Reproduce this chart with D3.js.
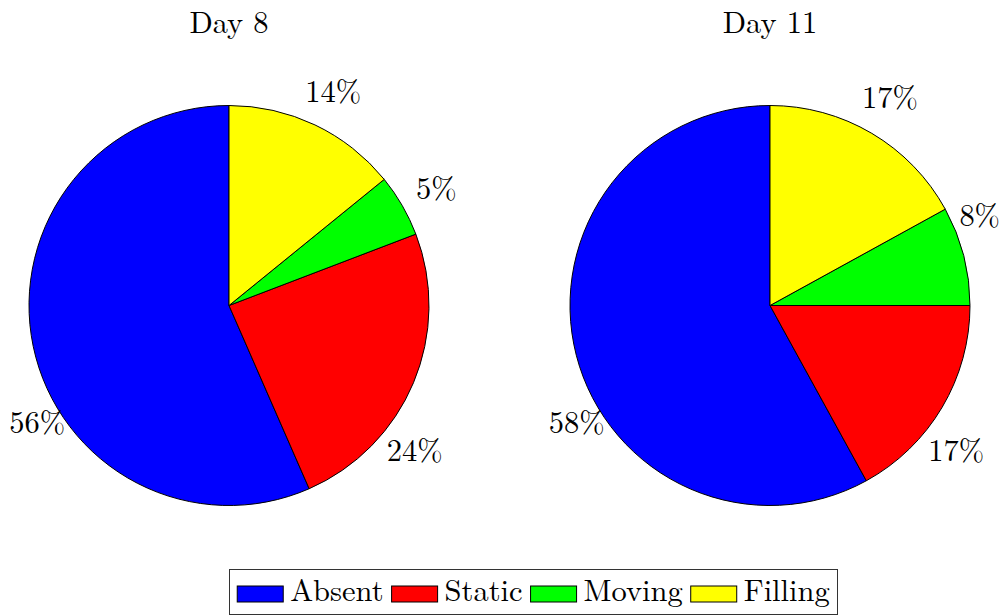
<!DOCTYPE html>
<html>
<head>
<meta charset="utf-8">
<script src="https://cdn.jsdelivr.net/npm/d3@7"></script>
<style>
  html, body { margin: 0; padding: 0; background: #fff; }
  svg { display: block; }
</style>
</head>
<body>
<svg id="chart" width="1008" height="615"></svg>
<script>
// Share of each state per observation day (percent)
const categories = ["Absent", "Static", "Moving", "Filling"];
const colors = ["#0000ff", "#ff0000", "#00ff00", "#ffff00"];
const days = ["Day 8", "Day 11"];
const day8Values = [56, 24, 5, 14];
const day11Values = [58, 17, 8, 17];

// Label placement tweaks: angular shift (degrees, counter-clockwise) and radial shift (px)
const day8LabelShift = [[19.7, -11], [-15.4, 0], [-0.6, 2], [-0.5, 2]];
const day11LabelShift = [[16.8, -10], [-7.3, 0], [8.7, -8], [0.6, 4]];

const FONT = '"Latin Modern Roman", "CMU Serif", "Liberation Serif", serif';
const fontSize = 30.5;

const svg = d3.select("#chart");
const radius = 200;
const centers = [[229, 305.5], [770, 305.5]];

// Slices run counter-clockwise from 12 o'clock in category order
const pie = d3.pie().sort(null).value(d => d.value)
  .startAngle(0).endAngle(-2 * Math.PI);
const arc = d3.arc().innerRadius(0).outerRadius(radius);
const colorScale = d3.scaleOrdinal().domain(categories).range(colors);

const series = [day8Values, day11Values];
const shifts = [day8LabelShift, day11LabelShift];

function labelPos(d) {
  const a = (d.startAngle + d.endAngle) / 2 - d.data.shift[0] * Math.PI / 180;
  const r = radius * 1.18 + d.data.shift[1];
  return [r * Math.sin(a), -r * Math.cos(a)];
}

series.forEach((vals, i) => {
  const [cx, cy] = centers[i];
  const data = categories.map((c, k) => ({ cat: c, value: vals[k], shift: shifts[i][k] }));
  const g = svg.append("g").attr("transform", `translate(${cx},${cy})`);

  g.selectAll("path.slice")
    .data(pie(data))
    .join("path")
    .attr("class", "slice")
    .attr("d", arc)
    .attr("fill", d => colorScale(d.data.cat))
    .attr("stroke", "#000")
    .attr("stroke-width", 1)
    .attr("stroke-linejoin", "round");

  g.selectAll("text.pct")
    .data(pie(data))
    .join("text")
    .attr("class", "pct")
    .style("font-family", FONT)
    .attr("font-size", fontSize)
    .attr("text-anchor", "middle")
    .attr("dy", "0.33em")
    .attr("x", d => labelPos(d)[0])
    .attr("y", d => labelPos(d)[1])
    .text(d => d.data.value + "%");

  svg.append("text")
    .style("font-family", FONT)
    .attr("font-size", fontSize)
    .attr("x", cx)
    .attr("y", 33)
    .attr("text-anchor", "middle")
    .text(days[i]);
});

// Legend: a framed row of swatches and names
const legend = svg.append("g");
const box = { x0: 229.5, x1: 837.5, y0: 569.5, y1: 614.5 };
legend.append("rect")
  .attr("x", box.x0).attr("y", box.y0)
  .attr("width", box.x1 - box.x0).attr("height", box.y1 - box.y0)
  .attr("fill", "#fff").attr("stroke", "#333").attr("stroke-width", 1);

const swW = 46, swH = 16, gapAfterSwatch = 7, gapAfterText = 8;
const items = legend.selectAll("g.item").data(categories).join("g").attr("class", "item");
items.append("rect")
  .attr("width", swW).attr("height", swH)
  .attr("y", 586)
  .attr("fill", d => colorScale(d))
  .attr("stroke", "#000").attr("stroke-width", 1);
items.append("text")
  .style("font-family", FONT)
  .attr("font-size", fontSize)
  .attr("y", 601)
  .text(d => d);

// Flow the items left to right, then centre the row inside the frame
let cursor = 0;
const offsets = [];
items.each(function () {
  const w = d3.select(this).select("text").node().getComputedTextLength();
  offsets.push(cursor);
  cursor += swW + gapAfterSwatch + w + gapAfterText;
});
const total = cursor - gapAfterText;
const start = (box.x0 + box.x1) / 2 - total / 2;
items.each(function (d, k) {
  const x = start + offsets[k];
  d3.select(this).select("rect").attr("x", x);
  d3.select(this).select("text").attr("x", x + swW + gapAfterSwatch);
});
</script>
</body>
</html>
